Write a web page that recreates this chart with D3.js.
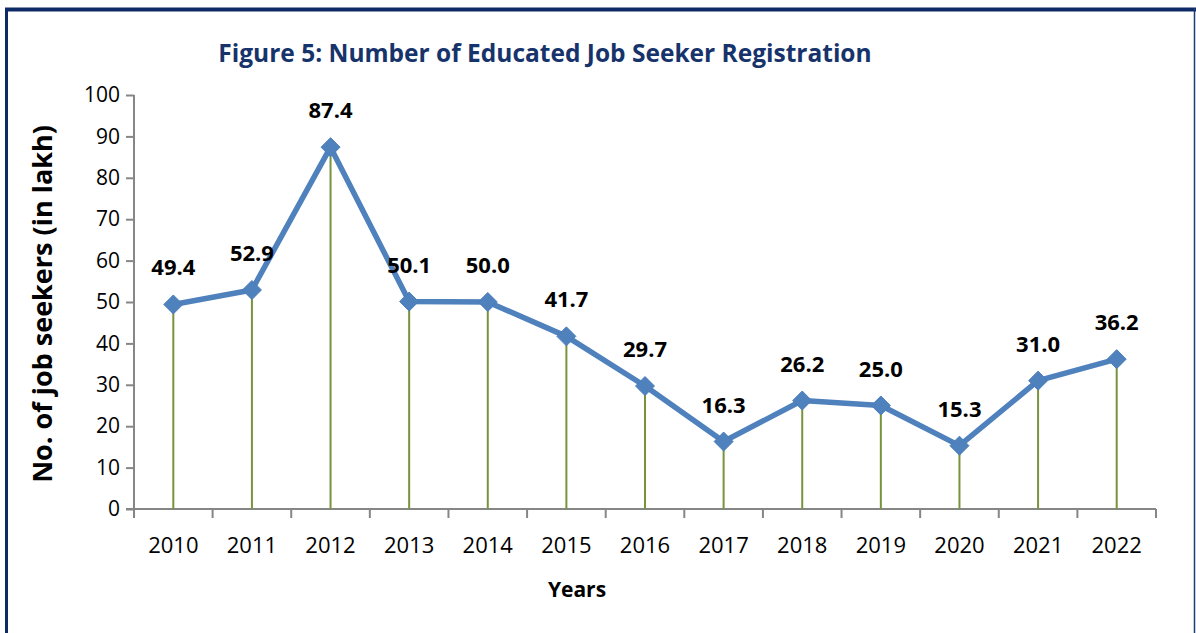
<!DOCTYPE html>
<html>
<head>
<meta charset="utf-8">
<script src="https://cdn.jsdelivr.net/npm/d3@7"></script>
<style>
  body { margin: 0; background: #fff; }
  text { font-family: "Open Sans", "Liberation Sans", sans-serif; }
</style>
</head>
<body>
<div id="chart"></div>
<script>
var years = ['2010', '2011', '2012', '2013', '2014', '2015', '2016', '2017', '2018', '2019', '2020', '2021', '2022'];
var seekers = [49.4, 52.9, 87.4, 50.1, 50.0, 41.7, 29.7, 16.3, 26.2, 25.0, 15.3, 31.0, 36.2];
var yTicks = [0, 10, 20, 30, 40, 50, 60, 70, 80, 90, 100];

var W = 1196, H = 633;
var plotL = 134, plotR = 1156, plotT = 95, plotB = 509;

var svg = d3.select('#chart').append('svg')
  .attr('width', W)
  .attr('height', H);

// frame
svg.append('line')
  .attr('x1', 5).attr('x2', 1196).attr('y1', 9.5).attr('y2', 9.5)
  .attr('stroke', '#0e2a66').attr('stroke-width', 4);
svg.append('line')
  .attr('x1', 6.5).attr('x2', 6.5).attr('y1', 8).attr('y2', H)
  .attr('stroke', '#0e2a66').attr('stroke-width', 3);
svg.append('line')
  .attr('x1', 1194.5).attr('x2', 1194.5).attr('y1', 8).attr('y2', H)
  .attr('stroke', '#1f3b73').attr('stroke-width', 1.5);

var x = d3.scaleBand().domain(years).range([plotL, plotR]);
var y = d3.scaleLinear().domain([0, 100]).range([plotB, plotT]);

// title
svg.append('text')
  .attr('x', 545).attr('y', 62)
  .attr('text-anchor', 'middle')
  .attr('font-size', 24.5).attr('font-weight', 'bold')
  .attr('fill', '#17336b')
  .text('Figure 5: Number of Educated Job Seeker Registration');

// axes
var yAxis = svg.append('g')
  .attr('transform', 'translate(' + plotL + ',0)')
  .call(d3.axisLeft(y).tickValues(yTicks).tickSize(8).tickPadding(6));
yAxis.selectAll('path, line').attr('stroke', '#868686').attr('stroke-width', 2);
yAxis.select('.domain').attr('d', 'M0,' + plotT + 'V' + plotB);
yAxis.selectAll('text').attr('font-size', 21).attr('fill', '#000')
  .style('font-family', '"Open Sans", sans-serif');

var xAxis = svg.append('g')
  .attr('transform', 'translate(0,' + plotB + ')');
xAxis.append('line')
  .attr('x1', plotL - 8).attr('x2', plotR)
  .attr('stroke', '#868686').attr('stroke-width', 2);
xAxis.selectAll('line.tick')
  .data(years.concat(['end']))
  .enter().append('line')
  .attr('class', 'tick')
  .attr('x1', function(d, i) { return plotL + i * x.step(); })
  .attr('x2', function(d, i) { return plotL + i * x.step(); })
  .attr('y1', 0).attr('y2', 9)
  .attr('stroke', '#868686').attr('stroke-width', 2);
xAxis.selectAll('text')
  .data(years)
  .enter().append('text')
  .attr('x', function(d) { return x(d) + x.bandwidth() / 2; })
  .attr('y', 44)
  .attr('text-anchor', 'middle')
  .attr('font-size', 22)
  .text(function(d) { return d; });

// axis titles
svg.append('text')
  .attr('transform', 'translate(52,' + ((plotT + plotB) / 2 + 2) + ') rotate(-90)')
  .attr('text-anchor', 'middle')
  .attr('font-size', 27).attr('font-weight', 'bold')
  .text('No. of job seekers (in lakh)');
svg.append('text')
  .attr('x', 577).attr('y', 597)
  .attr('text-anchor', 'middle')
  .attr('font-size', 21).attr('font-weight', 'bold')
  .text('Years');

var cx = function(d, i) { return x(years[i]) + x.bandwidth() / 2; };

// drop lines
svg.append('g').selectAll('line')
  .data(seekers)
  .enter().append('line')
  .attr('x1', cx).attr('x2', cx)
  .attr('y1', function(d) { return y(d); })
  .attr('y2', y(0))
  .attr('stroke', '#77933c')
  .attr('stroke-width', 2);

// series line
var line = d3.line()
  .x(cx)
  .y(function(d) { return y(d); });
svg.append('path')
  .datum(seekers)
  .attr('d', line)
  .attr('fill', 'none')
  .attr('stroke', '#4f81bd')
  .attr('stroke-width', 5.5)
  .attr('stroke-linejoin', 'round');

// markers
svg.append('g').selectAll('path')
  .data(seekers)
  .enter().append('path')
  .attr('transform', function(d, i) { return 'translate(' + cx(d, i) + ',' + y(d) + ')'; })
  .attr('d', 'M0,-9.5L9.5,0L0,9.5L-9.5,0Z')
  .attr('fill', '#4f81bd')
  .attr('stroke', '#4a7ebb')
  .attr('stroke-width', 1);

// data labels
svg.append('g').selectAll('text')
  .data(seekers)
  .enter().append('text')
  .attr('x', cx)
  .attr('y', function(d) { return y(d) - 29; })
  .attr('text-anchor', 'middle')
  .attr('font-size', 22).attr('font-weight', 'bold')
  .text(function(d) { return d.toFixed(1); });
</script>
</body>
</html>
